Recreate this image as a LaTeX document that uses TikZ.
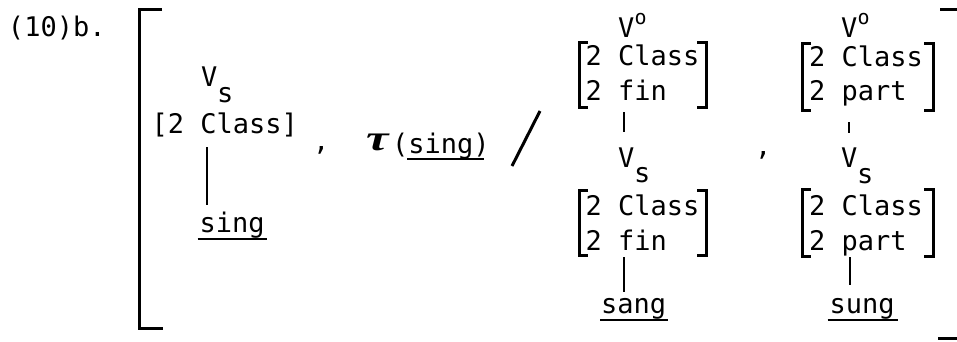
\documentclass[tikz,border=0pt]{standalone}
\usepackage{fontspec}
\usepackage{graphicx}
\newfontfamily\tw{DejaVu Sans Mono}
\newfontfamily\taufont{Liberation Serif}
\begin{document}
\begin{tikzpicture}[x=1pt,y=-1pt,
  txt/.style={inner sep=0pt, outer sep=0pt, anchor=base west, font=\tw\fontsize{27}{30}\selectfont},
  suptxt/.style={inner sep=0pt, outer sep=0pt, anchor=base west, font=\tw\fontsize{20}{22}\selectfont},
  brk/.style={line width=3pt, line cap=butt, line join=miter},
  conn/.style={line width=2.5pt},
  uline/.style={line width=1.8pt}]
\useasboundingbox (0,0) rectangle (957,341);
\clip (0,0) rectangle (957,341);

% label
\node[txt] (lab) at (8,36) {(10)b.};

% outer brackets
\draw[brk] (162,9) -- (139.5,9) -- (139.5,328) -- (163,328);
\draw[brk] (940,9) -- (959,9) -- (959,338) -- (938,338);

% column 1
\node[txt] (c1V) at (201,86) {V};
\node[txt] (c1s) at (217,102) {s};
\node[txt] (c1cls) at (151.5,133) {[2 Class]};
\node[txt] (c1sing) at (199.5,232) {sing};
\coordinate (c1a) at (207,147);
\coordinate (c1b) at (207,205);
\draw[conn] (c1a) -- (c1b);
\draw[uline] ([xshift=-2pt,yshift=-7pt]c1sing.base west) -- ([xshift=2pt,yshift=-7pt]c1sing.base east);

% comma, tau, slash
\node[txt] (cm1) at (313,150) {,};
\node[inner sep=0pt, anchor=base west, font=\taufont\bfseries\itshape\fontsize{36}{36}\selectfont] (tau) at (366,150) {\scalebox{1.4}[1]{τ}};
\node[txt] (tsing) at (392,153) {(sing)};
\draw[uline] ([xshift=15pt,yshift=-6pt]tsing.base west) -- ([xshift=-6pt,yshift=-6pt]tsing.base east);
\coordinate (sl1) at (512,166);
\coordinate (sl2) at (540,111);
\draw[line width=3pt] (sl1) -- (sl2);

% column 2
\node[txt] (c2V) at (618,37) {V};
\node[suptxt] (c2o) at (634.5,24) {o};
\node[txt] (c2r1) at (585.5,65) {2 Class};
\node[txt] (c2r2) at (585.5,100) {2 fin};
\draw[brk] (588,42) -- (579,42) -- (579,107) -- (588,107);
\draw[brk] (697,42) -- (706,42) -- (706,107) -- (697,107);
\coordinate (c2a) at (624,112);
\coordinate (c2b) at (624,132);
\draw[conn] (c2a) -- (c2b);
\node[txt] (c2V2) at (618,167) {V};
\node[txt] (c2s) at (634,182) {s};
\node[txt] (c2r3) at (585.5,215) {2 Class};
\node[txt] (c2r4) at (585.5,250) {2 fin};
\draw[brk] (588,190) -- (579,190) -- (579,255) -- (588,255);
\draw[brk] (697,190) -- (706,190) -- (706,255) -- (697,255);
\coordinate (c2c) at (624,257);
\coordinate (c2d) at (624,292);
\draw[conn] (c2c) -- (c2d);
\node[txt] (c2sang) at (601,313) {sang};
\draw[uline] ([xshift=-1pt,yshift=-7pt]c2sang.base west) -- ([xshift=2pt,yshift=-7pt]c2sang.base east);

\node[txt] (cm2) at (755,155) {,};

% column 3
\node[txt] (c3V) at (841,37) {V};
\node[suptxt] (c3o) at (857.5,24) {o};
\node[txt] (c3r1) at (809,66) {2 Class};
\node[txt] (c3r2) at (809,100) {2 part};
\draw[brk] (811,43) -- (802,43) -- (802,110) -- (811,110);
\draw[brk] (924,43) -- (933,43) -- (933,110) -- (924,110);
\coordinate (c3a) at (849,122);
\coordinate (c3b) at (849,133);
\draw[conn] (c3a) -- (c3b);
\node[txt] (c3V2) at (841,167) {V};
\node[txt] (c3s) at (857,183) {s};
\node[txt] (c3r3) at (809,215) {2 Class};
\node[txt] (c3r4) at (809,250) {2 part};
\draw[brk] (811,189) -- (802,189) -- (802,256) -- (811,256);
\draw[brk] (924,189) -- (933,189) -- (933,256) -- (924,256);
\coordinate (c3c) at (850,257);
\coordinate (c3d) at (850,285);
\draw[conn] (c3c) -- (c3d);
\node[txt] (c3sung) at (829.5,313) {sung};
\draw[uline] ([xshift=-2pt,yshift=-7pt]c3sung.base west) -- ([xshift=3pt,yshift=-7pt]c3sung.base east);
\end{tikzpicture}
\end{document}
